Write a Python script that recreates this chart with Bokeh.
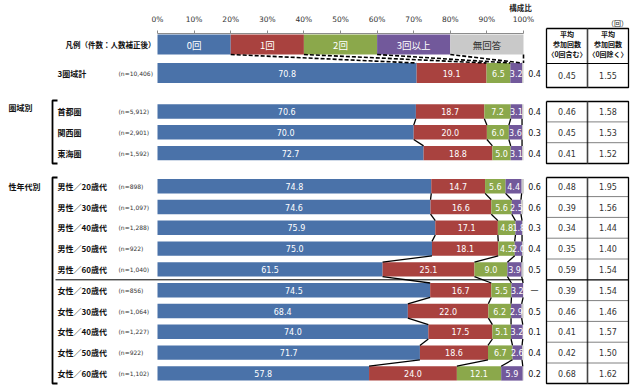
import numpy as np
from bokeh.plotting import figure
from bokeh.models import ColumnDataSource, Range1d, FixedTicker, PrintfTickFormatter, LinearAxis
from bokeh.core.properties import value
from bokeh.embed import file_html
from bokeh.resources import INLINE

# ---------------- data ----------------
segments = ["0回", "1回", "2回", "3回以上", "無回答"]
legend_shares = [20, 20, 20, 20, 20]
row_names = ["3圏域計", "首都圏", "関西圏", "東海圏",
             "男性／20歳代", "男性／30歳代", "男性／40歳代", "男性／50歳代", "男性／60歳代",
             "女性／20歳代", "女性／30歳代", "女性／40歳代", "女性／50歳代", "女性／60歳代"]
row_n = ["(n=10,406)", "(n=5,912)", "(n=2,901)", "(n=1,592)",
         "(n=898)", "(n=1,097)", "(n=1,288)", "(n=922)", "(n=1,040)",
         "(n=856)", "(n=1,064)", "(n=1,227)", "(n=922)", "(n=1,102)"]
zero = [70.8, 70.6, 70.0, 72.7, 74.8, 74.6, 75.9, 75.0, 61.5, 74.5, 68.4, 74.0, 71.7, 57.8]
once = [19.1, 18.7, 20.0, 18.8, 14.7, 16.6, 17.1, 18.1, 25.1, 16.7, 22.0, 17.5, 18.6, 24.0]
twice = [6.5, 7.2, 6.0, 5.0, 5.6, 5.6, 4.8, 4.5, 9.0, 5.5, 6.2, 5.1, 6.7, 12.1]
three_plus = [3.2, 3.1, 3.6, 3.1, 4.4, 2.5, 1.8, 2.0, 3.9, 3.2, 2.9, 3.2, 2.6, 5.9]
no_answer = [0.4, 0.4, 0.3, 0.4, 0.6, 0.6, 0.3, 0.4, 0.5, 0.0, 0.5, 0.1, 0.4, 0.2]
avg_incl = [0.45, 0.46, 0.45, 0.41, 0.48, 0.39, 0.34, 0.35, 0.59, 0.39, 0.46, 0.41, 0.42, 0.68]
avg_excl = [1.55, 1.58, 1.53, 1.52, 1.95, 1.56, 1.44, 1.40, 1.54, 1.54, 1.46, 1.57, 1.50, 1.62]
group_labels = ["圏域別", "性年代別"]
group_rows = [[1, 2, 3], [4, 5, 6, 7, 8, 9, 10, 11, 12, 13]]
x_ticks = [0, 10, 20, 30, 40, 50, 60, 70, 80, 90, 100]
table_head_incl = ["平均", "参加回数", "〈0回含む〉"]
table_head_excl = ["平均", "参加回数", "〈0回除く〉"]

# ---------------- styles / layout ----------------
COLORS = ["#4a72a9", "#a9423f", "#8ba84b", "#72599b", "#c9c9c9"]
JP = value("Noto Sans CJK JP")
NUM = value("DejaVu Sans")
X0, SCALE = 157.0, 3.66          # page px of 0 %, px per %
W, H = 632, 389
AXIS_Y = 33.0


def X(px):
    return (px - X0) / SCALE


ROW_Y = [72.5, 111.0, 131.8, 152.6] + [185.7 + 20.8 * k for k in range(10)]
ROW_H = [20.0] + [14.4] * 13
LEG_Y, LEG_H = 44.0, 20.0

p = figure(width=W, height=H, x_range=Range1d(X(0), X(W)), y_range=Range1d(H, 0),
           x_axis_location=None, y_axis_location=None, toolbar_location=None,
           output_backend="svg", min_border=0, title=None)
p.grid.visible = False
p.outline_line_color = None

ax = LinearAxis(fixed_location=AXIS_Y, ticker=FixedTicker(ticks=x_ticks),
                formatter=PrintfTickFormatter(format="%d%%"), bounds=(0, 100),
                major_tick_out=3, major_tick_in=0, minor_tick_out=0, minor_tick_in=0,
                axis_line_color="#8c8c8c", major_tick_line_color="#8c8c8c",
                major_label_text_font="DejaVu Sans", major_label_text_font_size="7.5px",
                major_label_text_color="#333333", major_label_standoff=7)
p.add_layout(ax, "above")

p.text(x=[X(520)], y=[7], text=["構成比"], text_font=JP, text_font_size="7.5px",
       text_font_style="bold", text_align="center", text_baseline="middle",
       text_color="#222222")

# legend bar
leg = np.array(legend_shares, dtype=float)
leg_cum = np.cumsum(leg)
p.hbar(y=[LEG_Y] * 5, left=list(leg_cum - leg), right=list(leg_cum), height=LEG_H,
       color=COLORS, line_color=None)
p.text(x=list(leg_cum - leg / 2), y=[LEG_Y] * 5, text=segments,
       text_color=["white", "white", "white", "white", "#333333"], text_font=JP,
       text_font_size="9.5px", text_align="center", text_baseline="middle")
p.text(x=[X(155)], y=[LEG_Y], text=["凡例（件数：人数補正後）"], text_font=JP,
       text_font_size="7.5px", text_font_style="bold", text_align="right",
       text_baseline="middle", text_color="#111111")

# stacked bars
shares = np.array([zero, once, twice, three_plus, no_answer]).T
cum = np.cumsum(shares, axis=1)
lefts = cum - shares
bx_l, bx_r, by, bh, bc = [], [], [], [], []
lx, ly, lt = [], [], []
for i in range(len(row_names)):
    for k in range(5):
        bx_l.append(lefts[i, k]); bx_r.append(cum[i, k]); by.append(ROW_Y[i])
        bh.append(ROW_H[i]); bc.append(COLORS[k])
        if k < 4:
            lx.append(lefts[i, k] + shares[i, k] / 2); ly.append(ROW_Y[i])
            lt.append(f"{shares[i, k]:.1f}")
p.hbar(source=ColumnDataSource(dict(y=by, left=bx_l, right=bx_r, h=bh, c=bc)),
       y="y", left="left", right="right", height="h", color="c", line_color=None)
p.text(x=lx, y=ly, text=lt, text_color="white", text_font=NUM, text_font_size="8px",
       text_align="center", text_baseline="middle")
na_text = ["—" if v == 0 else f"{v:.1f}" for v in no_answer]
p.text(x=[X(534)] * len(na_text), y=ROW_Y, text=na_text, text_color="#111111",
       text_font=NUM, text_font_size="8px", text_align="center", text_baseline="middle")

# dashed connectors legend -> total
lx0 = list(leg_cum[:4]) + [100]
lx1 = list(cum[0, :4]) + [100]
p.segment(x0=lx0, y0=[LEG_Y + LEG_H / 2] * 5, x1=lx1, y1=[ROW_Y[0] - ROW_H[0] / 2] * 5,
          line_color="black", line_width=1.6, line_dash="4 2")

# series connectors between rows
sx0, sy0, sx1, sy1 = [], [], [], []
for g in group_rows:
    for a, b in zip(g[:-1], g[1:]):
        for k in range(4):
            sx0.append(cum[a, k]); sy0.append(ROW_Y[a] + ROW_H[a] / 2)
            sx1.append(cum[b, k]); sy1.append(ROW_Y[b] - ROW_H[b] / 2)
p.segment(x0=sx0, y0=sy0, x1=sx1, y1=sy1, line_color="black", line_width=1.3)

# row labels
p.text(x=[X(57)] * len(row_names), y=ROW_Y, text=row_names, text_font=JP,
       text_font_size="8px", text_font_style="bold", text_align="left",
       text_baseline="middle", text_color="#111111")
p.text(x=[X(118)] * len(row_n), y=ROW_Y, text=row_n, text_font=NUM,
       text_font_size="6px", text_align="left", text_baseline="middle", text_color="#333333")

# group labels and brackets
gy = [ROW_Y[group_rows[0][0]] - 4, ROW_Y[group_rows[1][0]]]
p.text(x=[X(8)] * 2, y=gy, text=group_labels, text_font=JP, text_font_size="8px",
       text_font_style="bold", text_align="left", text_baseline="middle", text_color="#111111")
br_top = [100.0, 177.0]
br_bot = [163.0, 383.0]
p.multi_line(xs=[[X(57), X(52), X(52), X(57)] for _ in range(2)],
             ys=[[t, t, b, b] for t, b in zip(br_top, br_bot)],
             line_color="black", line_width=1.8)
sep_y = (ROW_Y[8] + ROW_Y[9]) / 2
p.segment(x0=[X(55)], y0=[sep_y], x1=[100], y1=[sep_y], line_color="black", line_width=1)

# ---------------- table (right) ----------------
CL, CM, CR = X(546), X(587), X(628)
c1, c2 = (CL + CM) / 2, (CM + CR) / 2
p.text(x=[X(617)], y=[22], text=["（回）"], text_font=JP, text_font_size="7px",
       text_align="center", text_baseline="middle", text_color="#222222")
hy = [33.5, 43.5, 53.5]
p.text(x=[c1] * 3 + [c2] * 3, y=hy + hy, text=table_head_incl + table_head_excl,
       text_font=JP, text_font_size="7px", text_font_style="bold", text_align="center",
       text_baseline="middle", text_color="#111111")
tab_y = [75.0] + ROW_Y[1:]
p.text(x=[c1] * len(tab_y), y=tab_y, text=[f"{v:.2f}" for v in avg_incl], text_font=NUM,
       text_font_size="8px", text_align="center", text_baseline="middle", text_color="#333333")
p.text(x=[c2] * len(tab_y), y=tab_y, text=[f"{v:.2f}" for v in avg_excl], text_font=NUM,
       text_font_size="8px", text_align="center", text_baseline="middle", text_color="#333333")
boxes = [(28.0, 87.0), (101.0, 163.0), (177.0, 383.0)]
p.multi_line(xs=[[CL, CR, CR, CL, CL] for _ in boxes],
             ys=[[a, a, b, b, a] for a, b in boxes], line_color="black", line_width=1.3)
p.segment(x0=[CM] * 3, y0=[b[0] for b in boxes], x1=[CM] * 3, y1=[b[1] for b in boxes],
          line_color="#444444", line_width=1.6)
p.segment(x0=[CL], y0=[63.0], x1=[CR], y1=[63.0], line_color="black", line_width=1.2)
dot_y = []
for g in group_rows:
    for a, b in zip(g[:-1], g[1:]):
        if (a, b) != (8, 9):
            dot_y.append((ROW_Y[a] + ROW_Y[b]) / 2)
p.segment(x0=[CL] * len(dot_y), y0=dot_y, x1=[CR] * len(dot_y), y1=dot_y,
          line_color="black", line_width=1, line_dash="1 1")
p.segment(x0=[CL], y0=[sep_y], x1=[CR], y1=[sep_y], line_color="black", line_width=1.2)

open("out.html", "w").write(file_html(p, INLINE))
